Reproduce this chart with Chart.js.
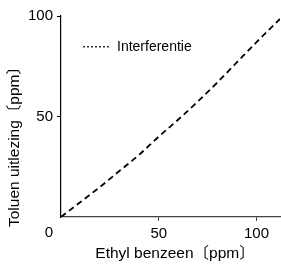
<!DOCTYPE html>
<html>
<head>
<meta charset="utf-8">
<script src="https://cdn.jsdelivr.net/npm/chart.js@4.4.1/dist/chart.umd.min.js"></script>
<style>
  html, body { margin: 0; padding: 0; background: #fff; }
  #wrap { width: 281px; height: 264px; }
</style>
</head>
<body>
<div id="wrap"><canvas id="myChart"></canvas></div>
<script>
// data
const benzeen = [0, 10, 20, 30, 40, 50, 60, 70, 80, 90, 100, 112];
const toluen = [0, 7.5, 15, 23, 31, 40, 48.5, 57.5, 67, 77, 87, 98.5];
const xTicks = [50, 100];
const yTicks = [50, 100];
const seriesLabel = "Interferentie";
const xTitle = "Ethyl benzeen〔ppm〕";
const yTitle = "Toluen uitlezing〔ppm〕";
const originLabel = "0";

const FONT = "'Liberation Sans', Arial, 'Noto Sans CJK JP', sans-serif";

// axis titles and the shared "0" at the corner
const extraText = {
  id: 'extraText',
  afterDraw(chart) {
    const ctx = chart.ctx;
    const area = chart.chartArea;
    ctx.save();
    ctx.fillStyle = '#000';
    ctx.font = '15px ' + FONT;
    ctx.textAlign = 'center';
    ctx.textBaseline = 'middle';
    ctx.fillText(originLabel, area.left - 12, area.bottom + 16);
    ctx.font = '15.5px ' + FONT;
    ctx.fillText(xTitle, 175, 254);
    ctx.translate(15, 143);
    ctx.rotate(-Math.PI / 2);
    ctx.fillText(yTitle, 0, 0);
    ctx.restore();
  }
};

const ctx = document.getElementById('myChart').getContext('2d');
new Chart(ctx, {
  type: 'line',
  data: {
    datasets: [{
      label: seriesLabel,
      data: benzeen.map((x, i) => ({ x: x, y: toluen[i] })),
      borderColor: '#000',
      borderWidth: 1.8,
      borderDash: [6, 4],
      pointRadius: 0,
      cubicInterpolationMode: 'monotone',
      fill: false,
    }]
  },
  options: {
    responsive: true,
    maintainAspectRatio: false,
    animation: false,
    layout: { padding: { top: 16, right: 1, left: 0, bottom: 0 } },
    scales: {
      x: {
        type: 'linear',
        min: 0,
        max: 112,
        afterBuildTicks: (scale) => { scale.ticks = xTicks.map(v => ({ value: v })); },
        afterFit: (scale) => { scale.height = 47; },
        grid: { display: true, drawOnChartArea: false, drawTicks: true, tickLength: 4, color: '#444' },
        border: { display: true, color: '#444', width: 1.2 },
        ticks: { color: '#000', font: { family: FONT, size: 15 }, padding: 4, maxRotation: 0 },
      },
      y: {
        min: 0,
        max: 100,
        afterBuildTicks: (scale) => { scale.ticks = yTicks.map(v => ({ value: v })); },
        afterFit: (scale) => { scale.width = 61; },
        grid: { display: true, drawOnChartArea: false, drawTicks: true, tickLength: 4, color: '#000' },
        border: { display: true, color: '#000', width: 1.2 },
        ticks: { color: '#000', font: { family: FONT, size: 15 }, padding: 4 },
      },
    },
    plugins: {
      legend: {
        position: 'chartArea',
        align: 'start',
        title: { display: true, text: ' ', padding: { top: 0, bottom: 1 }, font: { family: FONT, size: 14 } },
        labels: {
          usePointStyle: true,
          pointStyle: 'line',
          pointStyleWidth: 27,
          padding: 22,
          color: '#000',
          font: { family: FONT, size: 14 },
          generateLabels: (chart) => [{
            text: seriesLabel,
            fontColor: '#000',
            pointStyle: 'line',
            strokeStyle: '#000',
            fillStyle: '#000',
            lineWidth: 1.2,
            lineDash: [2, 2],
            datasetIndex: 0,
          }],
        },
      },
      tooltip: { enabled: false },
    },
  },
  plugins: [extraText],
});
</script>
</body>
</html>
